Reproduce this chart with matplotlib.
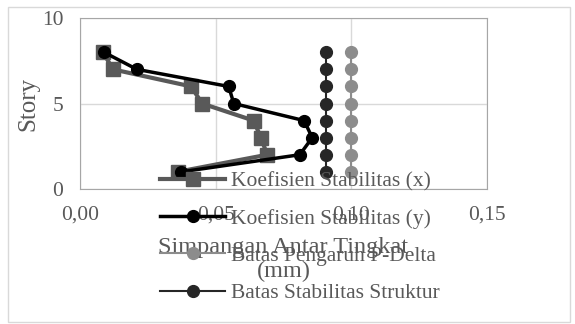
import matplotlib.pyplot as plt
from matplotlib.ticker import FuncFormatter, MultipleLocator
from matplotlib.patches import Rectangle

stories = [8, 7, 6, 5, 4, 3, 2, 1]
koef_x = [0.0085, 0.0122, 0.041, 0.045, 0.064, 0.0667, 0.069, 0.036]
koef_y = [0.0089, 0.021, 0.0548, 0.0567, 0.0826, 0.0856, 0.081, 0.0374]
batas_pdelta = [0.10] * 8
batas_stab = [0.0907] * 8

plt.rcParams['font.family'] = ['Liberation Serif', 'DejaVu Serif']

fig = plt.figure(figsize=(5.75, 3.24), dpi=100)
fig.patches.append(Rectangle((0.014, 0.006), 0.978, 0.972, transform=fig.transFigure,
                             fill=False, edgecolor='#d9d9d9', linewidth=1))
ax = fig.add_axes([0.139, 0.417, 0.708, 0.527])

ax.plot(koef_x, stories, color='#595959', linewidth=3, marker='s', markersize=10,
        label='Koefisien Stabilitas (x)', zorder=3)
ax.plot(koef_y, stories, color='black', linewidth=2.5, marker='o', markersize=8.5,
        label='Koefisien Stabilitas (y)', zorder=4)
ax.plot(batas_pdelta, stories, color='#8c8c8c', linewidth=1.5, marker='o', markersize=8.5,
        label='Batas Pengaruh P-Delta', zorder=3)
ax.plot(batas_stab, stories, color='#262626', linewidth=1.5, marker='o', markersize=8.5,
        label='Batas Stabilitas Struktur', zorder=3)

ax.set_xlim(0, 0.15)
ax.set_ylim(0, 10)
ax.xaxis.set_major_locator(MultipleLocator(0.05))
ax.yaxis.set_major_locator(MultipleLocator(5))
ax.xaxis.set_major_formatter(FuncFormatter(lambda v, p: f'{v:.2f}'.replace('.', ',')))
ax.grid(True, color='#d9d9d9', linewidth=1)
ax.set_axisbelow(True)
for s in ax.spines.values():
    s.set_color('#a6a6a6')
ax.tick_params(length=0, labelsize=15.5, colors='#595959', pad=12)
ax.tick_params(axis='y', pad=12)

ax.set_ylabel('Story', fontsize=18, color='#595959', labelpad=2)
ax.set_xlabel('Simpangan Antar Tingkat\n(mm)', fontsize=17.5, color='#595959',
              labelpad=9, linespacing=1.15)

leg = fig.legend(loc='upper left', bbox_to_anchor=(0.26, 0.505), frameon=False,
                 fontsize=15.5, labelcolor='#595959', handlelength=3.0,
                 labelspacing=0.8, borderpad=0, handletextpad=0.3)

fig.savefig('out.png', dpi=100)
